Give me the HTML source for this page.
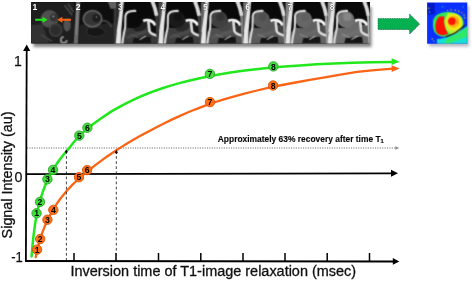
<!DOCTYPE html>
<html lang="en"><head><meta charset="utf-8"><title>T1 relaxation curve</title>
<style>html,body{margin:0;padding:0;background:#fff;overflow:hidden}svg{display:block}text{font-family:"Liberation Sans",sans-serif}</style>
</head><body>
<svg width="472" height="281" viewBox="0 0 472 281">
<defs>
<filter id="b6" x="-5%" y="-5%" width="110%" height="110%" color-interpolation-filters="sRGB"><feConvolveMatrix order="3" kernelMatrix="0.03 0.11 0.03 0.11 0.44 0.11 0.03 0.11 0.03" edgeMode="duplicate" preserveAlpha="true"/></filter>
<filter id="b3" x="-10%" y="-10%" width="120%" height="120%"><feGaussianBlur stdDeviation="0.35"/></filter>
<filter id="sh" x="-10%" y="-30%" width="120%" height="160%"><feGaussianBlur stdDeviation="1.6"/></filter>
<clipPath id="strip"><rect x="31.2" y="2" width="338.6" height="41.6"/></clipPath>
<clipPath id="cmap"><rect x="427.1" y="2.4" width="40.2" height="41.3"/></clipPath>
</defs>
<rect width="472" height="281" fill="#fff"/>
<rect x="33.5" y="7" width="338" height="40" fill="#666" opacity="0.8" filter="url(#sh)"/>
<rect x="429" y="6" width="40" height="40.5" fill="#99a" opacity="0.7" filter="url(#sh)"/>
<g clip-path="url(#strip)">
<rect x="31" y="2" width="340" height="42" fill="#0c0c0c"/>
<g filter="url(#b6)">
<g transform="translate(31,2) scale(0.16393)">
<rect x="0" y="0" width="262" height="252" fill="#1e1e1e"/>
<path d="M0,140 L70,135 L110,250 L0,250Z" fill="#323232"/>
<circle cx="113" cy="103" r="54" fill="#505050"/>
<circle cx="140" cy="95" r="25" fill="#343434"/>
<circle cx="136" cy="88" r="5" fill="#aaa"/>
<circle cx="150" cy="172" r="42" fill="#3e3e3e"/>
<circle cx="150" cy="172" r="31" fill="#2c2c2c"/>
<ellipse cx="220" cy="140" rx="22" ry="40" fill="#525252"/>
<path d="M205,20 L250,80 M225,10 L258,60" stroke="#484848" stroke-width="10" fill="none"/>
<path d="M218,232 A18,18 0 1 1 200,214" stroke="#8a8a8a" stroke-width="12" fill="none"/>
<path d="M60,200 L130,240" stroke="#444" stroke-width="10"/>
</g>
<g transform="translate(74,2) scale(0.14948)">
<rect x="0" y="0" width="290" height="281" fill="#0e0e0e"/>
<path d="M40,150 L290,140 L290,281 L30,281Z" fill="#222"/>
<path d="M90,175 C130,160 190,165 210,200 C200,235 120,240 85,215Z" fill="#161616" stroke="#333" stroke-width="6"/>
<path d="M28,-5 C24,80 18,160 12,285" stroke="#6a6a6a" stroke-width="28" fill="none"/>
<path d="M24,60 C22,110 18,160 14,220" stroke="#808080" stroke-width="12" fill="none"/>
<ellipse cx="124" cy="112" rx="62" ry="54" fill="#363636" stroke="#646464" stroke-width="11"/>
<circle cx="150" cy="108" r="28" fill="#1e1e1e"/>
<circle cx="150" cy="100" r="5" fill="#8a8a8a"/>
<path d="M188,126 C210,122 238,135 252,168" stroke="#444" stroke-width="13" fill="none"/>
<path d="M225,-5 L290,-5 L290,45 L245,45Z" fill="#606060"/>
<rect x="266" y="45" width="26" height="240" fill="#383838"/>
</g>
<g transform="translate(116.00,2) scale(0.14948)">
<rect x="0" y="0" width="290" height="281" fill="#090909"/>
<path d="M0,0 L36,0 L26,90 L10,200 L0,200Z" fill="#2c2c2c"/>
<path d="M40,200 L70,172 L120,175 L215,140 L222,200 L245,218 L290,228 L290,281 L30,281 Z" fill="#383838"/>
<path d="M228,150 L272,160 L274,218 L240,206Z" fill="#0e0e0e"/>
<path d="M72,238 L205,196" stroke="#484848" stroke-width="20" fill="none"/>
<path d="M120,240 L230,232 L235,276 L110,276Z" fill="#141414"/>
<path d="M158,252 L200,228" stroke="#ccc" stroke-width="7" fill="none"/>
<ellipse cx="165" cy="163" rx="52" ry="30" transform="rotate(-22 165 163)" fill="#202020"/>
<ellipse cx="122" cy="118" rx="56" ry="56" fill="#0a0a0a"/>
<circle cx="130" cy="100" r="27" fill="#0a0a0a"/>
<path d="M29,-5 C27,50 16,120 5,190 L-2,285 L31,285 L35,200 C40,130 48,60 52,-5Z" fill="#e6e6e6"/>
<path d="M135,60 C100,58 66,62 63,95 L62,165 C58,195 46,230 42,285" stroke="#dcdcdc" stroke-width="14" fill="none"/>
<path d="M182,127 C205,114 245,120 264,156" stroke="#f8f8f8" stroke-width="18" fill="none"/>
<path d="M216,124 L224,195 C230,212 250,220 290,228" stroke="#dedede" stroke-width="18" fill="none"/>
<path d="M270,80 C274,140 278,200 282,285" stroke="#3a3a3a" stroke-width="18" fill="none"/>
<path d="M242,-8 C256,25 266,55 272,92" stroke="#dcdcdc" stroke-width="25" fill="none"/>
<path d="M95,215 L150,240" stroke="#555" stroke-width="7" fill="none"/>
</g>
<g transform="translate(158.50,2) scale(0.14948)">
<rect x="0" y="0" width="290" height="281" fill="#090909"/>
<path d="M0,0 L36,0 L26,90 L10,200 L0,200Z" fill="#484848"/>
<path d="M40,200 L70,172 L120,175 L215,140 L222,200 L245,218 L290,228 L290,281 L30,281 Z" fill="#3e3e3e"/>
<path d="M228,150 L272,160 L274,218 L240,206Z" fill="#161616"/>
<path d="M72,238 L205,196" stroke="#4c4c4c" stroke-width="20" fill="none"/>
<path d="M120,240 L230,232 L235,276 L110,276Z" fill="#141414"/>
<path d="M158,252 L200,228" stroke="#ccc" stroke-width="7" fill="none"/>
<ellipse cx="165" cy="163" rx="52" ry="30" transform="rotate(-22 165 163)" fill="#2a2a2a"/>
<ellipse cx="122" cy="118" rx="56" ry="56" fill="#1a1a1a"/>
<circle cx="130" cy="100" r="27" fill="#121212"/>
<path d="M29,-5 C27,50 16,120 5,190 L-2,285 L31,285 L35,200 C40,130 48,60 52,-5Z" fill="#e6e6e6"/>
<path d="M135,60 C100,58 66,62 63,95 L62,165 C58,195 46,230 42,285" stroke="#dcdcdc" stroke-width="14" fill="none"/>
<path d="M182,127 C205,114 245,120 264,156" stroke="#f8f8f8" stroke-width="18" fill="none"/>
<path d="M216,124 L224,195 C230,212 250,220 290,228" stroke="#dedede" stroke-width="18" fill="none"/>
<path d="M270,80 C274,140 278,200 282,285" stroke="#444444" stroke-width="18" fill="none"/>
<path d="M242,-8 C256,25 266,55 272,92" stroke="#dcdcdc" stroke-width="25" fill="none"/>
<path d="M95,215 L150,240" stroke="#5a5a5a" stroke-width="7" fill="none"/>
</g>
<g transform="translate(201.00,2) scale(0.14948)">
<rect x="0" y="0" width="290" height="281" fill="#090909"/>
<path d="M0,0 L36,0 L26,90 L10,200 L0,200Z" fill="#626262"/>
<path d="M40,200 L70,172 L120,175 L215,140 L222,200 L245,218 L290,228 L290,281 L30,281 Z" fill="#4e4e4e"/>
<path d="M228,150 L272,160 L274,218 L240,206Z" fill="#2e2e2e"/>
<path d="M72,238 L205,196" stroke="#585858" stroke-width="20" fill="none"/>
<path d="M120,240 L230,232 L235,276 L110,276Z" fill="#141414"/>
<path d="M158,252 L200,228" stroke="#ccc" stroke-width="7" fill="none"/>
<ellipse cx="165" cy="163" rx="52" ry="30" transform="rotate(-22 165 163)" fill="#464646"/>
<ellipse cx="122" cy="118" rx="56" ry="56" fill="#404040"/>
<circle cx="130" cy="100" r="27" fill="#343434"/>
<path d="M29,-5 C27,50 16,120 5,190 L-2,285 L31,285 L35,200 C40,130 48,60 52,-5Z" fill="#e6e6e6"/>
<path d="M135,60 C100,58 66,62 63,95 L62,165 C58,195 46,230 42,285" stroke="#dcdcdc" stroke-width="14" fill="none"/>
<path d="M182,127 C205,114 245,120 264,156" stroke="#f8f8f8" stroke-width="18" fill="none"/>
<path d="M216,124 L224,195 C230,212 250,220 290,228" stroke="#dedede" stroke-width="18" fill="none"/>
<path d="M270,80 C274,140 278,200 282,285" stroke="#808080" stroke-width="18" fill="none"/>
<path d="M242,-8 C256,25 266,55 272,92" stroke="#dcdcdc" stroke-width="25" fill="none"/>
<path d="M95,215 L150,240" stroke="#777" stroke-width="7" fill="none"/>
</g>
<g transform="translate(243.30,2) scale(0.14948)">
<rect x="0" y="0" width="290" height="281" fill="#090909"/>
<path d="M0,0 L36,0 L26,90 L10,200 L0,200Z" fill="#747474"/>
<path d="M40,200 L70,172 L120,175 L215,140 L222,200 L245,218 L290,228 L290,281 L30,281 Z" fill="#5a5a5a"/>
<path d="M228,150 L272,160 L274,218 L240,206Z" fill="#424242"/>
<path d="M72,238 L205,196" stroke="#606060" stroke-width="20" fill="none"/>
<path d="M120,240 L230,232 L235,276 L110,276Z" fill="#141414"/>
<path d="M158,252 L200,228" stroke="#ccc" stroke-width="7" fill="none"/>
<ellipse cx="165" cy="163" rx="52" ry="30" transform="rotate(-22 165 163)" fill="#565656"/>
<ellipse cx="122" cy="118" rx="56" ry="56" fill="#585858"/>
<circle cx="130" cy="100" r="27" fill="#4e4e4e"/>
<path d="M29,-5 C27,50 16,120 5,190 L-2,285 L31,285 L35,200 C40,130 48,60 52,-5Z" fill="#e6e6e6"/>
<path d="M135,60 C100,58 66,62 63,95 L62,165 C58,195 46,230 42,285" stroke="#dcdcdc" stroke-width="14" fill="none"/>
<path d="M182,127 C205,114 245,120 264,156" stroke="#f8f8f8" stroke-width="18" fill="none"/>
<path d="M216,124 L224,195 C230,212 250,220 290,228" stroke="#dedede" stroke-width="18" fill="none"/>
<path d="M270,80 C274,140 278,200 282,285" stroke="#949494" stroke-width="18" fill="none"/>
<path d="M242,-8 C256,25 266,55 272,92" stroke="#dcdcdc" stroke-width="25" fill="none"/>
<path d="M95,215 L150,240" stroke="#858585" stroke-width="7" fill="none"/>
</g>
<g transform="translate(285.60,2) scale(0.14948)">
<rect x="0" y="0" width="290" height="281" fill="#090909"/>
<path d="M0,0 L36,0 L26,90 L10,200 L0,200Z" fill="#848484"/>
<path d="M40,200 L70,172 L120,175 L215,140 L222,200 L245,218 L290,228 L290,281 L30,281 Z" fill="#646464"/>
<path d="M228,150 L272,160 L274,218 L240,206Z" fill="#4e4e4e"/>
<path d="M72,238 L205,196" stroke="#686868" stroke-width="20" fill="none"/>
<path d="M120,240 L230,232 L235,276 L110,276Z" fill="#141414"/>
<path d="M158,252 L200,228" stroke="#ccc" stroke-width="7" fill="none"/>
<ellipse cx="165" cy="163" rx="52" ry="30" transform="rotate(-22 165 163)" fill="#606060"/>
<ellipse cx="122" cy="118" rx="56" ry="56" fill="#666666"/>
<circle cx="130" cy="100" r="27" fill="#606060"/>
<path d="M29,-5 C27,50 16,120 5,190 L-2,285 L31,285 L35,200 C40,130 48,60 52,-5Z" fill="#e6e6e6"/>
<path d="M135,60 C100,58 66,62 63,95 L62,165 C58,195 46,230 42,285" stroke="#dcdcdc" stroke-width="14" fill="none"/>
<path d="M182,127 C205,114 245,120 264,156" stroke="#f8f8f8" stroke-width="18" fill="none"/>
<path d="M216,124 L224,195 C230,212 250,220 290,228" stroke="#dedede" stroke-width="18" fill="none"/>
<path d="M270,80 C274,140 278,200 282,285" stroke="#a0a0a0" stroke-width="18" fill="none"/>
<path d="M242,-8 C256,25 266,55 272,92" stroke="#dcdcdc" stroke-width="25" fill="none"/>
<path d="M95,215 L150,240" stroke="#8c8c8c" stroke-width="7" fill="none"/>
</g>
<g transform="translate(327.80,2) scale(0.14948)">
<rect x="0" y="0" width="290" height="281" fill="#090909"/>
<path d="M0,0 L36,0 L26,90 L10,200 L0,200Z" fill="#9c9c9c"/>
<path d="M40,200 L70,172 L120,175 L215,140 L222,200 L245,218 L290,228 L290,281 L30,281 Z" fill="#6c6c6c"/>
<path d="M228,150 L272,160 L274,218 L240,206Z" fill="#5a5a5a"/>
<path d="M72,238 L205,196" stroke="#707070" stroke-width="20" fill="none"/>
<path d="M120,240 L230,232 L235,276 L110,276Z" fill="#141414"/>
<path d="M158,252 L200,228" stroke="#ccc" stroke-width="7" fill="none"/>
<ellipse cx="165" cy="163" rx="52" ry="30" transform="rotate(-22 165 163)" fill="#6a6a6a"/>
<ellipse cx="122" cy="118" rx="56" ry="56" fill="#727272"/>
<circle cx="130" cy="100" r="27" fill="#868686"/>
<path d="M29,-5 C27,50 16,120 5,190 L-2,285 L31,285 L35,200 C40,130 48,60 52,-5Z" fill="#e6e6e6"/>
<path d="M135,60 C100,58 66,62 63,95 L62,165 C58,195 46,230 42,285" stroke="#dcdcdc" stroke-width="14" fill="none"/>
<path d="M182,127 C205,114 245,120 264,156" stroke="#f8f8f8" stroke-width="18" fill="none"/>
<path d="M216,124 L224,195 C230,212 250,220 290,228" stroke="#dedede" stroke-width="18" fill="none"/>
<path d="M270,80 C274,140 278,200 282,285" stroke="#b4b4b4" stroke-width="18" fill="none"/>
<path d="M242,-8 C256,25 266,55 272,92" stroke="#dcdcdc" stroke-width="25" fill="none"/>
<path d="M95,215 L150,240" stroke="#999" stroke-width="7" fill="none"/>
</g>
</g>
<text x="32.6" y="10.2" font-size="8.6" font-weight="bold" fill="#fff">1</text>
<text x="75.8" y="10.2" font-size="8.6" font-weight="bold" fill="#fff">2</text>
<text x="118.0" y="10.2" font-size="8.6" font-weight="bold" fill="#fff" stroke="#111" stroke-width="0.5" paint-order="stroke">3</text>
<text x="160.5" y="10.2" font-size="8.6" font-weight="bold" fill="#fff" stroke="#111" stroke-width="0.5" paint-order="stroke">4</text>
<text x="203.0" y="10.2" font-size="8.6" font-weight="bold" fill="#fff" stroke="#111" stroke-width="0.5" paint-order="stroke">5</text>
<text x="245.3" y="10.2" font-size="8.6" font-weight="bold" fill="#fff" stroke="#111" stroke-width="0.5" paint-order="stroke">6</text>
<text x="287.6" y="10.2" font-size="8.6" font-weight="bold" fill="#fff" stroke="#111" stroke-width="0.5" paint-order="stroke">7</text>
<text x="329.8" y="10.2" font-size="8.6" font-weight="bold" fill="#fff" stroke="#111" stroke-width="0.5" paint-order="stroke">8</text>
<path d="M35.2,19.8 H44" stroke="#20e81c" stroke-width="2"/><path d="M42.6,16.8 L47.6,19.8 L42.6,22.8Z" fill="#20e81c"/>
<path d="M71,19.8 H61" stroke="#fa6414" stroke-width="2"/><path d="M62.4,16.8 L57.3,19.8 L62.4,22.8Z" fill="#fa6414"/>
</g>
<path d="M378.4,19 H409.9 V14.6 L419.8,24.2 L409.9,34.2 V29.8 H378.4Z" fill="#555" opacity="0.55"/>
<path d="M378,18.5 H409.5 V14 L419.6,24 L409.5,34 V29.4 H378Z" fill="#06b050" stroke="#1c7850" stroke-width="0.7" stroke-dasharray="1.4 0.9"/>
<g clip-path="url(#cmap)"><g filter="url(#b6)">
<rect x="426" y="1" width="43" height="44" fill="#0a30ff"/>
<g transform="translate(422,0) scale(0.17094)">
<rect x="30" y="14" width="45" height="70" fill="#0418c8"/>
<path d="M64,130 C66,92 100,72 150,70 C200,68 246,90 244,140 C242,170 220,190 180,205 C140,225 84,215 70,180 C64,160 63,145 64,130Z" fill="#30e858"/>
<path d="M150,76 C200,70 240,95 238,140 C236,165 220,185 185,198 C150,205 130,160 130,120 Z" fill="#b8f030"/>
<ellipse cx="187" cy="130" rx="46" ry="48" fill="#f4e818"/>
<ellipse cx="184" cy="127" rx="34" ry="35" fill="#fbb010"/>
<circle cx="175" cy="124" r="22" fill="#ff1400"/>
<circle cx="203" cy="128" r="10" fill="#ff8a10"/>
<path d="M100,98 C112,92 128,94 132,100 C124,125 132,165 152,196 C140,210 100,210 86,190 C74,165 76,120 100,98Z" fill="#ff1000"/>
<path d="M88,228 C140,226 200,200 266,150 L266,256 L88,256 Z" fill="#18e0d0"/>
<path d="M150,222 C190,210 230,185 266,155 L266,215 C230,225 190,240 160,256 L130,256 Z" fill="#30e868"/>
<path d="M138,216 C180,204 220,180 250,146" stroke="#3a0a0a" stroke-width="7" fill="none"/>
<circle cx="150" cy="62" r="4" fill="#e0e020"/>
<circle cx="170" cy="58" r="4" fill="#e0e020"/>
<circle cx="195" cy="60" r="4" fill="#e0e020"/>
<circle cx="215" cy="66" r="4" fill="#e0e020"/>
<circle cx="232" cy="74" r="4" fill="#e0a020"/>
<circle cx="246" cy="88" r="4" fill="#e0e020"/>
<circle cx="250" cy="104" r="4" fill="#e0e020"/>
<circle cx="40" cy="48" r="4" fill="#e0e020"/>
<circle cx="44" cy="70" r="4" fill="#40e060"/>
<circle cx="60" cy="228" r="4" fill="#e0e020"/>
<circle cx="70" cy="240" r="4" fill="#40e060"/>
<circle cx="120" cy="40" r="4" fill="#40e060"/>
<circle cx="240" cy="40" r="4" fill="#20c0e0"/>
</g></g></g>
<path d="M27,148 H396" stroke="#6a6a6a" stroke-width="1.1" stroke-dasharray="1.1 1.3"/>
<path d="M395.3,146.2 L399.3,148 L395.3,149.8Z" fill="#8a8a8a"/>
<path d="M25.9,262 L26.7,50" stroke="#000" stroke-width="1.8"/>
<path d="M23.1,51 L26.7,44.6 L30.3,51Z" fill="#000"/>
<path d="M25.2,260.95 L393.5,261.4" stroke="#000" stroke-width="2"/>
<path d="M392.8,258.1 L399.3,261.4 L392.8,264.7Z" fill="#000"/>
<path d="M26,174.2 L392,173.3" stroke="#000" stroke-width="1.7"/>
<path d="M391,169.8 L398,173.3 L391,176.8Z" fill="#000"/>
<path d="M74,253 V261" stroke="#000" stroke-width="1.5"/>
<path d="M116,253 V261" stroke="#000" stroke-width="1.5"/>
<path d="M158.5,253 V261" stroke="#000" stroke-width="1.5"/>
<path d="M200.8,253 V261" stroke="#000" stroke-width="1.5"/>
<path d="M243,253 V261" stroke="#000" stroke-width="1.5"/>
<path d="M285,253 V261" stroke="#000" stroke-width="1.5"/>
<path d="M327.2,253 V261" stroke="#000" stroke-width="1.5"/>
<path d="M369.5,253 V261" stroke="#000" stroke-width="1.5"/>
<path d="M31.6,256.4 L32.0,251.4 L32.4,246.6 L32.9,242.0 L33.3,237.6 L33.8,233.3 L34.4,229.2 L34.9,225.2 L35.5,221.4 L36.2,217.7 L36.8,214.1 L37.5,210.7 L38.3,207.3 L39.1,204.1 L39.9,200.9 L40.8,197.8 L41.8,194.8 L42.8,191.8 L43.8,188.9 L45.0,186.0 L46.2,183.2 L47.4,180.4 L48.8,177.6 L50.2,174.8 L51.7,172.0 L53.3,169.2 L55.0,166.4 L56.8,163.7 L58.7,161.0 L60.8,158.3 L62.9,155.5 L65.2,152.7 L67.6,149.9 L70.2,146.7 L72.9,143.3 L75.7,140.0 L78.8,136.6 L82.0,133.4 L85.4,130.4 L89.1,127.3 L92.9,124.3 L97.0,121.3 L101.3,118.2 L105.9,115.1 L110.7,111.9 L115.9,108.9 L121.3,105.8 L127.1,102.8 L133.2,99.8 L139.7,96.9 L146.6,94.0 L153.9,91.2 L161.6,88.5 L169.8,85.9 L178.5,83.4 L187.8,81.0 L197.5,78.7 L207.9,76.5 L218.8,74.4 L230.5,72.5 L242.8,70.8 L255.9,69.2 L269.7,67.7 L284.4,66.5 L300.0,65.4 L316.5,64.3 L334.0,63.4 L352.5,62.7 L372.2,62.2 L393.0,61.9" stroke="#20e81c" stroke-width="2.5" fill="none" stroke-linecap="round"/>
<path d="M391.6,58.3 L399.7,61.7 L391.6,65Z" fill="#20e81c"/>
<path d="M35.7,257.2 L36.3,254.4 L36.9,251.8 L37.5,249.1 L38.1,246.5 L38.8,243.9 L39.6,241.3 L40.3,238.8 L41.1,236.2 L42.0,233.7 L42.9,231.2 L43.8,228.8 L44.8,226.3 L45.8,223.9 L46.9,221.4 L48.1,219.0 L49.3,216.5 L50.6,214.1 L51.9,211.7 L53.3,209.3 L54.8,206.8 L56.4,204.4 L58.1,201.9 L59.8,199.5 L61.6,197.1 L63.6,194.7 L65.6,192.3 L67.7,189.8 L70.0,187.4 L72.3,184.9 L74.8,182.5 L77.4,180.0 L80.2,177.5 L83.1,174.9 L86.2,172.3 L89.4,169.8 L92.8,167.1 L96.3,164.4 L100.1,161.6 L104.0,158.7 L108.2,155.7 L112.6,152.8 L117.2,149.7 L122.0,146.6 L127.1,143.5 L132.5,140.3 L138.2,137.1 L144.1,133.8 L150.4,130.4 L157.0,127.0 L163.9,123.5 L171.2,119.9 L178.9,116.4 L187.0,112.8 L195.5,109.3 L204.5,105.9 L214.0,102.5 L223.9,99.3 L234.4,96.3 L245.4,93.3 L257.0,90.5 L269.2,87.7 L282.0,85.0 L295.5,82.5 L309.8,79.9 L324.8,77.4 L340.5,74.6 L357.1,71.9 L374.6,70.1 L393.0,68.6" stroke="#fa6414" stroke-width="2.3" fill="none" stroke-linecap="round"/>
<path d="M391.6,65.3 L399.7,68.6 L391.6,72Z" fill="#fa6414"/>
<path d="M66.4,151 V260" stroke="#2a2a2a" stroke-width="0.9" stroke-dasharray="2.7 2.4"/>
<path d="M116.3,151 V260" stroke="#2a2a2a" stroke-width="0.9" stroke-dasharray="2.7 2.4"/>
<circle cx="37.1" cy="249.6" r="4.7" fill="#ff7018" stroke="#d4560c" stroke-width="0.9"/>
<text x="37.1" y="252.7" font-size="8.7" font-weight="bold" text-anchor="middle" fill="#0a0400">1</text>
<circle cx="40.2" cy="239" r="4.7" fill="#ff7018" stroke="#d4560c" stroke-width="0.9"/>
<text x="40.2" y="242.1" font-size="8.7" font-weight="bold" text-anchor="middle" fill="#0a0400">2</text>
<circle cx="47.4" cy="219.7" r="4.7" fill="#ff7018" stroke="#d4560c" stroke-width="0.9"/>
<text x="47.4" y="222.8" font-size="8.7" font-weight="bold" text-anchor="middle" fill="#0a0400">3</text>
<circle cx="53.3" cy="209.9" r="4.7" fill="#ff7018" stroke="#d4560c" stroke-width="0.9"/>
<text x="53.3" y="213.0" font-size="8.7" font-weight="bold" text-anchor="middle" fill="#0a0400">4</text>
<circle cx="79" cy="177.2" r="4.7" fill="#ff7018" stroke="#d4560c" stroke-width="0.9"/>
<text x="79" y="180.3" font-size="8.7" font-weight="bold" text-anchor="middle" fill="#0a0400">5</text>
<circle cx="87.1" cy="170.1" r="4.7" fill="#ff7018" stroke="#d4560c" stroke-width="0.9"/>
<text x="87.1" y="173.2" font-size="8.7" font-weight="bold" text-anchor="middle" fill="#0a0400">6</text>
<circle cx="210" cy="102.1" r="4.7" fill="#ff7018" stroke="#d4560c" stroke-width="0.9"/>
<text x="210" y="105.2" font-size="8.7" font-weight="bold" text-anchor="middle" fill="#0a0400">7</text>
<circle cx="273.1" cy="85.5" r="4.7" fill="#ff7018" stroke="#d4560c" stroke-width="0.9"/>
<text x="273.1" y="88.6" font-size="8.7" font-weight="bold" text-anchor="middle" fill="#0a0400">8</text>
<circle cx="36.6" cy="213.3" r="4.7" fill="#42de3e" stroke="#2ca42c" stroke-width="0.9"/>
<text x="36.6" y="216.4" font-size="8.7" font-weight="bold" text-anchor="middle" fill="#000a00">1</text>
<circle cx="40" cy="201.9" r="4.7" fill="#42de3e" stroke="#2ca42c" stroke-width="0.9"/>
<text x="40" y="205.0" font-size="8.7" font-weight="bold" text-anchor="middle" fill="#000a00">2</text>
<circle cx="47.4" cy="179.3" r="4.7" fill="#42de3e" stroke="#2ca42c" stroke-width="0.9"/>
<text x="47.4" y="182.4" font-size="8.7" font-weight="bold" text-anchor="middle" fill="#000a00">3</text>
<circle cx="53" cy="169.9" r="4.7" fill="#42de3e" stroke="#2ca42c" stroke-width="0.9"/>
<text x="53" y="173.0" font-size="8.7" font-weight="bold" text-anchor="middle" fill="#000a00">4</text>
<circle cx="79.3" cy="135.6" r="4.7" fill="#42de3e" stroke="#2ca42c" stroke-width="0.9"/>
<text x="79.3" y="138.7" font-size="8.7" font-weight="bold" text-anchor="middle" fill="#000a00">5</text>
<circle cx="87.4" cy="127.7" r="4.7" fill="#42de3e" stroke="#2ca42c" stroke-width="0.9"/>
<text x="87.4" y="130.8" font-size="8.7" font-weight="bold" text-anchor="middle" fill="#000a00">6</text>
<circle cx="209.9" cy="73.9" r="4.7" fill="#42de3e" stroke="#2ca42c" stroke-width="0.9"/>
<text x="209.9" y="77.0" font-size="8.7" font-weight="bold" text-anchor="middle" fill="#000a00">7</text>
<circle cx="273.4" cy="66.4" r="4.7" fill="#42de3e" stroke="#2ca42c" stroke-width="0.9"/>
<text x="273.4" y="69.5" font-size="8.7" font-weight="bold" text-anchor="middle" fill="#000a00">8</text>
<path d="M66.3,149.4 l1.5,2.6 l-1.5,1.6 l-1.5,-1.6Z M116.4,150 l1.5,2.6 l-1.5,1.6 l-1.5,-1.6Z" fill="#0a0a0a"/>
<text x="14.0" y="65.8" font-size="15.4" fill="#111" stroke="#111" stroke-width="0.25" textLength="7.8" lengthAdjust="spacingAndGlyphs">1</text>
<text x="14.4" y="181.6" font-size="15.4" fill="#111" stroke="#111" stroke-width="0.25" textLength="7.9" lengthAdjust="spacingAndGlyphs">0</text>
<text x="11.2" y="262.2" font-size="15.4" fill="#111" stroke="#111" stroke-width="0.25" textLength="11.6" lengthAdjust="spacingAndGlyphs">-1</text>
<text transform="translate(12.4,238.4) rotate(-90)" font-size="14" fill="#111" stroke="#111" stroke-width="0.3" textLength="127" lengthAdjust="spacingAndGlyphs">Signal Intensity (au)</text>
<text x="70.5" y="276.3" font-size="14" fill="#111" stroke="#111" stroke-width="0.3" textLength="285.6" lengthAdjust="spacingAndGlyphs">Inversion time of T1-image relaxation (msec)</text>
<text x="217.8" y="141.5" font-size="8.7" font-weight="bold" fill="#0a0a0a" stroke="#0a0a0a" stroke-width="0.15" textLength="166" lengthAdjust="spacingAndGlyphs">Approximately 63% recovery after time T<tspan font-size="6" dy="1.7">1</tspan></text>
</svg>
</body></html>
